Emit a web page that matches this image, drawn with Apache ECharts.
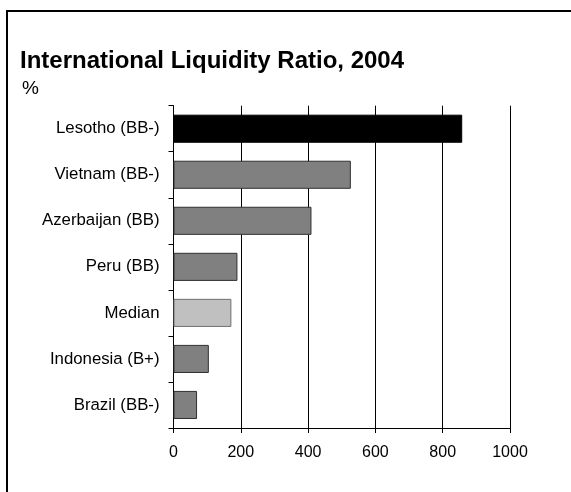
<!DOCTYPE html>
<html><head><meta charset="utf-8">
<script src="https://cdn.jsdelivr.net/npm/echarts@6/dist/echarts.min.js"></script>
<style>html,body{margin:0;padding:0;background:#fff}#c{width:571px;height:492px}</style>
</head><body><div id="c"></div>
<script>
const categories = ['Lesotho (BB-)','Vietnam (BB-)','Azerbaijan (BB)','Peru (BB)','Median','Indonesia (B+)','Brazil (BB-)'];
const values = [858, 527, 410, 190, 172, 105, 70];
const barColors = ['#000000','#808080','#808080','#808080','#c0c0c0','#808080','#808080'];
const xTicks = [0, 200, 400, 600, 800, 1000];

const chart = echarts.init(document.getElementById('c'), null, {renderer:'canvas'});
const font = '"Liberation Sans", Arial, sans-serif';
chart.setOption({
  animation:false,
  backgroundColor:'#fff',
  title:[
    {text:'International Liquidity Ratio, 2004', left:15, top:44,
     textStyle:{fontFamily:font, fontSize:24, fontWeight:'bold', color:'#000'}},
    {text:'%', left:17, top:74, textStyle:{fontFamily:font, fontSize:19, fontWeight:'normal', color:'#000'}}
  ],
  graphic:[{type:'rect', shape:{x:7, y:11, width:600, height:520}, style:{fill:null, stroke:'#000', lineWidth:2}, silent:true}],
  grid:{left:173.5, right:61, top:105.7, bottom:64, containLabel:false},
  xAxis:{type:'value', min:xTicks[0], max:xTicks[xTicks.length-1], interval:200,
    axisLine:{show:true, lineStyle:{color:'#000', width:1}},
    axisTick:{show:true, length:5, lineStyle:{color:'#000'}},
    axisLabel:{fontFamily:font, fontSize:16, color:'#000', margin:17, formatter:(v)=>String(v)},
    splitLine:{show:true, lineStyle:{color:'#000', width:1}}},
  yAxis:{type:'category', data:categories, inverse:true,
    axisLine:{show:true, lineStyle:{color:'#000', width:1}},
    axisTick:{show:true, length:5, alignWithLabel:false, lineStyle:{color:'#000'}},
    axisLabel:{fontFamily:font, fontSize:16.8, color:'#000', margin:14}},
  series:[{type:'bar', barCategoryGap:'39%',
    data: values.map((v,i)=>({value:v, itemStyle:{color:barColors[i], borderColor: i===0?'#000':(i===4?'#707070':'#303030'), borderWidth:1}}))}]
});
</script></body></html>
